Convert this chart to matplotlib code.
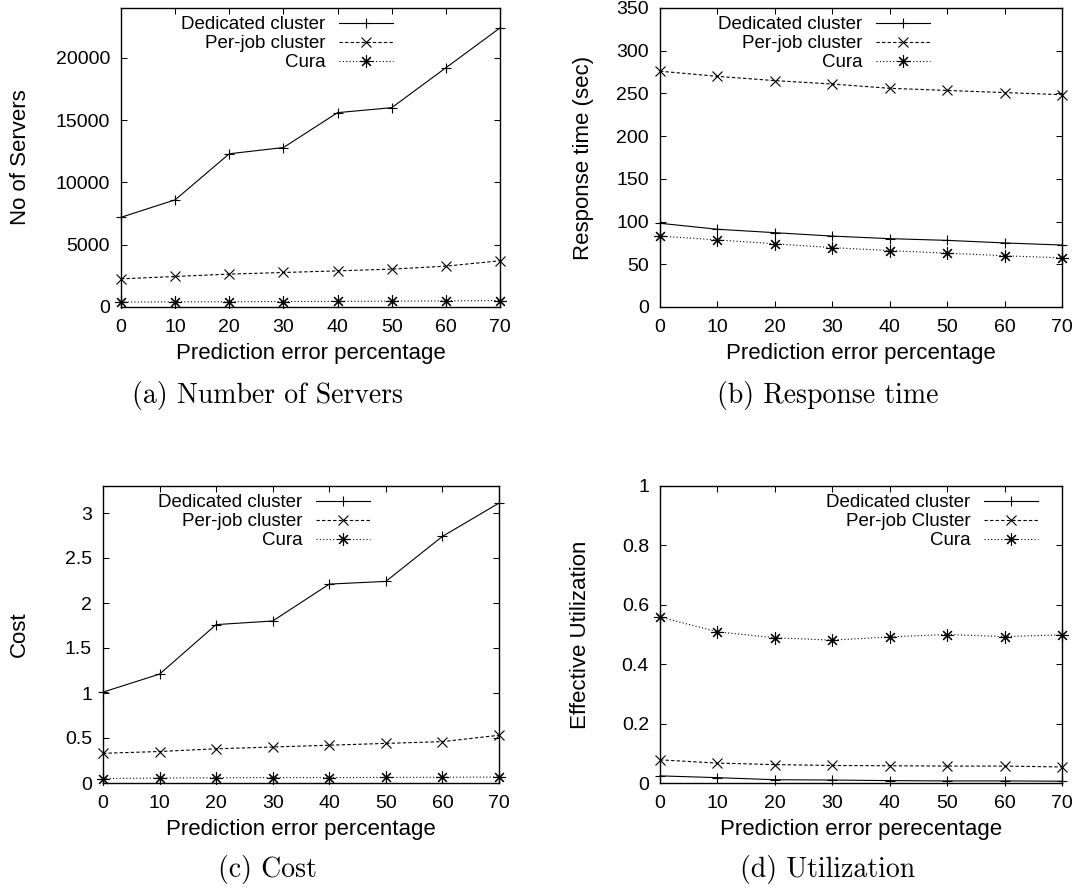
import matplotlib
matplotlib.use("Agg")
import matplotlib.pyplot as plt
from matplotlib.ticker import FormatStrFormatter

plt.rcParams["font.family"] = ["Liberation Sans", "DejaVu Sans"]

# prediction error percentage (x axis, shared by all panels)
error_pct = [0, 10, 20, 30, 40, 50, 60, 70]

# (a) number of servers
servers_dedicated = [7200, 8600, 12300, 12800, 15600, 16000, 19200, 22400]
servers_perjob = [2260, 2450, 2640, 2770, 2900, 3040, 3280, 3710]
servers_cura = [400, 410, 420, 440, 450, 470, 490, 520]

# (b) response time (sec)
resp_dedicated = [98, 91, 87, 83, 80, 78, 75, 72.5]
resp_perjob = [276, 270, 265, 261, 256, 253.5, 251, 248.5]
resp_cura = [83, 78.5, 74, 69.5, 66, 63, 60, 57.5]

# (c) cost
cost_dedicated = [1.01, 1.21, 1.76, 1.80, 2.21, 2.24, 2.74, 3.11]
cost_perjob = [0.33, 0.35, 0.38, 0.40, 0.42, 0.44, 0.46, 0.53]
cost_cura = [0.05, 0.055, 0.058, 0.06, 0.06, 0.062, 0.064, 0.066]

# (d) effective utilization
util_dedicated = [0.024, 0.018, 0.011, 0.010, 0.008, 0.007, 0.007, 0.006]
util_perjob = [0.078, 0.067, 0.062, 0.059, 0.058, 0.057, 0.057, 0.054]
util_cura = [0.559, 0.509, 0.489, 0.481, 0.492, 0.500, 0.493, 0.499]

W, H = 1081, 890
fig = plt.figure(figsize=(W / 100, H / 100), dpi=100)


def px_rect(left, right, top, bottom):
    return [left / W, 1 - bottom / H, (right - left) / W, (bottom - top) / H]


def draw_panel(rect, series, labels, ylim, yticks, yfmt, ylabel, xlabel,
               ylab_x, xlab_y, leg_x, caption, cap_xy):
    ax = fig.add_axes(rect)
    dedicated, perjob, cura = series
    ax.plot(error_pct, dedicated, color="black", lw=0.8, ls="-",
            marker="+", ms=7.5, mew=0.8, clip_on=False, label=labels[0])
    ax.plot(error_pct, perjob, color="black", lw=0.8, ls=(0, (3, 2)),
            marker="x", ms=7.5, mew=0.8, clip_on=False, label=labels[1])
    ax.plot(error_pct, cura, color="black", lw=0.8, ls=(0, (1, 2)),
            marker=(8, 2, 0), ms=9, mew=0.8, clip_on=False, label=labels[2])

    ax.set_xlim(0, 70)
    ax.set_ylim(*ylim)
    ax.set_xticks(error_pct)
    ax.set_yticks(yticks)
    ax.yaxis.set_major_formatter(FormatStrFormatter(yfmt))
    ax.tick_params(direction="in", top=True, right=True, length=4,
                   width=0.75, labelsize=14)
    ax.tick_params(axis="x", pad=9)
    ax.tick_params(axis="y", pad=8)
    for sp in ax.spines.values():
        sp.set_linewidth(1.0)

    ax.set_ylabel(ylabel, fontsize=16, va="center")
    ax.yaxis.set_label_coords(ylab_x, 0.5)
    ax.set_xlabel(xlabel, fontsize=16, va="center")
    ax.xaxis.set_label_coords(0.5, xlab_y)

    ax.legend(loc="upper right", bbox_to_anchor=(leg_x, 0.972), frameon=False,
              markerfirst=False, fontsize=13.5, handlelength=2.9,
              handletextpad=0.7, labelspacing=0.1, borderpad=0,
              borderaxespad=0)

    fig.text(cap_xy[0] / W, 1 - cap_xy[1] / H, caption, family="cmr10",
             fontsize=20, ha="center", va="center")
    return ax


labels = ["Dedicated cluster", "Per-job cluster", "Cura"]

draw_panel(px_rect(121, 500, 8, 307),
           (servers_dedicated, servers_perjob, servers_cura), labels,
           (0, 24000), [0, 5000, 10000, 15000, 20000], "%g",
           "No of Servers", "Prediction error percentage",
           -0.264, -0.154, 0.718, "(a) Number of Servers", (267, 395))

draw_panel(px_rect(660, 1062, 8, 307),
           (resp_dedicated, resp_perjob, resp_cura), labels,
           (0, 350), [0, 50, 100, 150, 200, 250, 300, 350], "%g",
           "Response time (sec)", "Prediction error percentage",
           -0.19, -0.154, 0.672, "(b) Response time", (828, 395))

draw_panel(px_rect(103, 499, 486, 783),
           (cost_dedicated, cost_perjob, cost_cura), labels,
           (0, 3.3), [0, 0.5, 1, 1.5, 2, 2.5, 3], "%g",
           "Cost", "Prediction error percentage",
           -0.21, -0.158, 0.674, "(c) Cost", (267, 869))

draw_panel(px_rect(660, 1062, 486, 783),
           (util_dedicated, util_perjob, util_cura),
           ["Dedicated cluster", "Per-job Cluster", "Cura"],
           (0, 1), [0, 0.2, 0.4, 0.6, 0.8, 1], "%g",
           "Effective Utilization", "Prediction error perecentage",
           -0.197, -0.158, 0.94, "(d) Utilization", (828, 869))

fig.savefig("out.png", dpi=100)
